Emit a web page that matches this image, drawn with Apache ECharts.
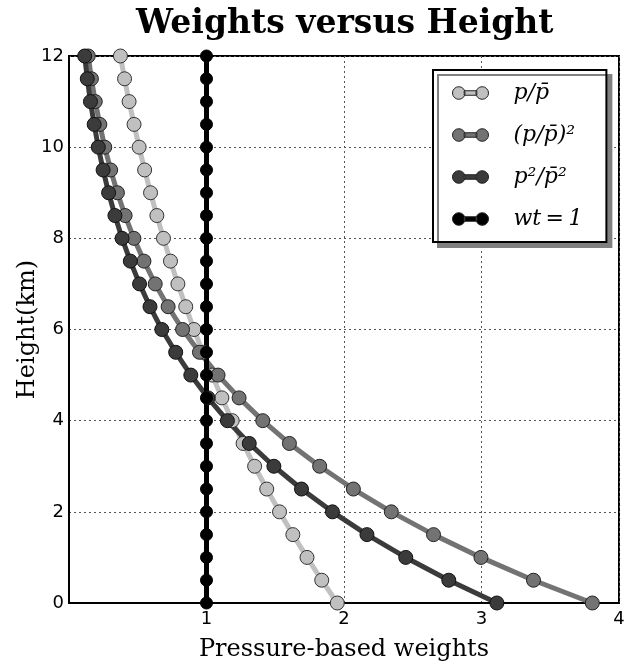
<!DOCTYPE html>
<html>
<head>
<meta charset="utf-8">
<script src="https://cdn.jsdelivr.net/npm/echarts@6/dist/echarts.min.js"></script>
<style>
  html, body { margin: 0; padding: 0; background: #fff; }
  #weightsChart { width: 627px; height: 661px; }
</style>
</head>
<body>
<div id="weightsChart"></div>
<script>
// heights (km), one point every 0.5 km
const heights = [0, 0.5, 1, 1.5, 2, 2.5, 3, 3.5, 4, 4.5, 5, 5.5, 6, 6.5, 7, 7.5, 8, 8.5, 9, 9.5, 10, 10.5, 11, 11.5, 12];
// p / pbar
const wPRatio = [1.951, 1.838, 1.731, 1.628, 1.531, 1.438, 1.350, 1.266, 1.187, 1.112, 1.041, 0.974, 0.909, 0.849, 0.792, 0.738, 0.687, 0.639, 0.593, 0.550, 0.510, 0.473, 0.437, 0.404, 0.374];
// (p / pbar)^2
const wPRatioSq = [3.806, 3.378, 2.996, 2.651, 2.344, 2.068, 1.823, 1.603, 1.409, 1.237, 1.084, 0.949, 0.826, 0.721, 0.627, 0.545, 0.472, 0.408, 0.352, 0.303, 0.260, 0.224, 0.191, 0.163, 0.140];
// p^2 / pbar^2
const wPSqRatio = [3.112, 2.762, 2.449, 2.167, 1.916, 1.691, 1.490, 1.311, 1.152, 1.011, 0.886, 0.776, 0.675, 0.589, 0.513, 0.446, 0.386, 0.334, 0.288, 0.248, 0.213, 0.183, 0.156, 0.133, 0.114];
// wt = 1
const wOne = [1, 1, 1, 1, 1, 1, 1, 1, 1, 1, 1, 1, 1, 1, 1, 1, 1, 1, 1, 1, 1, 1, 1, 1, 1];

const xTicks = [0, 1, 2, 3, 4];
const yTicks = [0, 2, 4, 6, 8, 10, 12];

const seriesNames = ["p/p\u0304", "(p/p\u0304)\u00b2", "p\u00b2/p\u0304\u00b2", "wt\u2009=\u20091"];
const seriesColors = ["#c0c0c0", "#737373", "#3b3b3b", "#000000"];

function pairs(xs) {
  return xs.map(function (x, i) { return [x, heights[i]]; });
}

const chart = echarts.init(document.getElementById("weightsChart"), null, { renderer: "canvas" });

const iconPath = "path://M0,7a7,7 0 1,0 14,0a7,7 0 1,0 -14,0zM26,7a7,7 0 1,0 14,0a7,7 0 1,0 -14,0zM13,4.5h14v5h-14z";

function mkSeries(name, vals, color, size, edge) {
  return {
    name: name,
    type: "line",
    data: pairs(vals),
    symbol: "circle",
    symbolSize: size,
    lineStyle: { color: color, width: 5 },
    itemStyle: { color: color, borderColor: edge, borderWidth: 1 },
    emphasis: { disabled: true },
    clip: false
  };
}

const option = {
  animation: false,
  backgroundColor: "#fff",
  title: {
    text: "Weights versus Height",
    left: 136,
    top: 8,
    padding: 0,
    textStyle: {
      fontFamily: "DejaVu Serif",
      fontWeight: "bold",
      fontSize: 33,
      color: "#000"
    }
  },
  legend: {
    orient: "vertical",
    left: 433,
    top: 70,
    padding: [10, 24, 10, 19],
    itemGap: 16,
    itemWidth: 36,
    itemHeight: 13,
    backgroundColor: "#fff",
    borderColor: "#000",
    borderWidth: 2,
    borderRadius: 0,
    shadowColor: "#808080",
    shadowBlur: 0,
    shadowOffsetX: 5,
    shadowOffsetY: 5,
    itemStyle: { borderColor: "#222", borderWidth: 1 },
    data: seriesNames.map(function (n) { return { name: n, icon: iconPath }; }),
    textStyle: {
      fontFamily: "DejaVu Serif",
      fontStyle: "italic",
      fontSize: 22,
      lineHeight: 26,
      color: "#000",
      padding: [0, 0, 0, 20]
    }
  },
  grid: {
    left: 69,
    right: 8,
    top: 56,
    bottom: 58,
    outerBoundsMode: "none",
    show: true,
    borderColor: "#000",
    borderWidth: 2,
    backgroundColor: "transparent"
  },
  xAxis: {
    type: "value",
    min: xTicks[0],
    max: xTicks[xTicks.length - 1],
    interval: 1,
    name: "Pressure-based weights",
    nameLocation: "middle",
    nameGap: 35,
    nameTextStyle: { fontFamily: "DejaVu Serif", fontSize: 24, color: "#000" },
    axisLine: { show: true, onZero: false, lineStyle: { color: "#000", width: 2 } },
    axisTick: { show: false },
    axisLabel: {
      margin: 7,
      fontFamily: "DejaVu Sans",
      fontSize: 18,
      color: "#000",
      formatter: function (v) { return v === 0 ? "" : String(v); }
    },
    splitLine: { show: true, lineStyle: { color: "#555", width: 1, type: [2, 3] } }
  },
  yAxis: {
    type: "value",
    min: yTicks[0],
    max: yTicks[yTicks.length - 1],
    interval: 2,
    name: "Height(km)",
    nameLocation: "middle",
    nameGap: 29,
    nameMoveOverlap: false,
    nameRotate: 90,
    nameTextStyle: { fontFamily: "DejaVu Serif", fontSize: 24, color: "#000" },
    axisLine: { show: true, onZero: false, lineStyle: { color: "#000", width: 2 } },
    axisTick: { show: false },
    axisLabel: {
      margin: 5,
      fontFamily: "DejaVu Sans",
      fontSize: 18,
      color: "#000"
    },
    splitLine: { show: true, lineStyle: { color: "#555", width: 1, type: [2, 3] } }
  },
  series: [
    mkSeries(seriesNames[0], wPRatio, seriesColors[0], 14, "#333"),
    mkSeries(seriesNames[1], wPRatioSq, seriesColors[1], 14, "#222"),
    mkSeries(seriesNames[2], wPSqRatio, seriesColors[2], 14, "#111"),
    mkSeries(seriesNames[3], wOne, seriesColors[3], 12, "#000")
  ]
};

chart.setOption(option);

window.addEventListener("resize", function () {
  chart.resize();
});
</script>
</body>
</html>
